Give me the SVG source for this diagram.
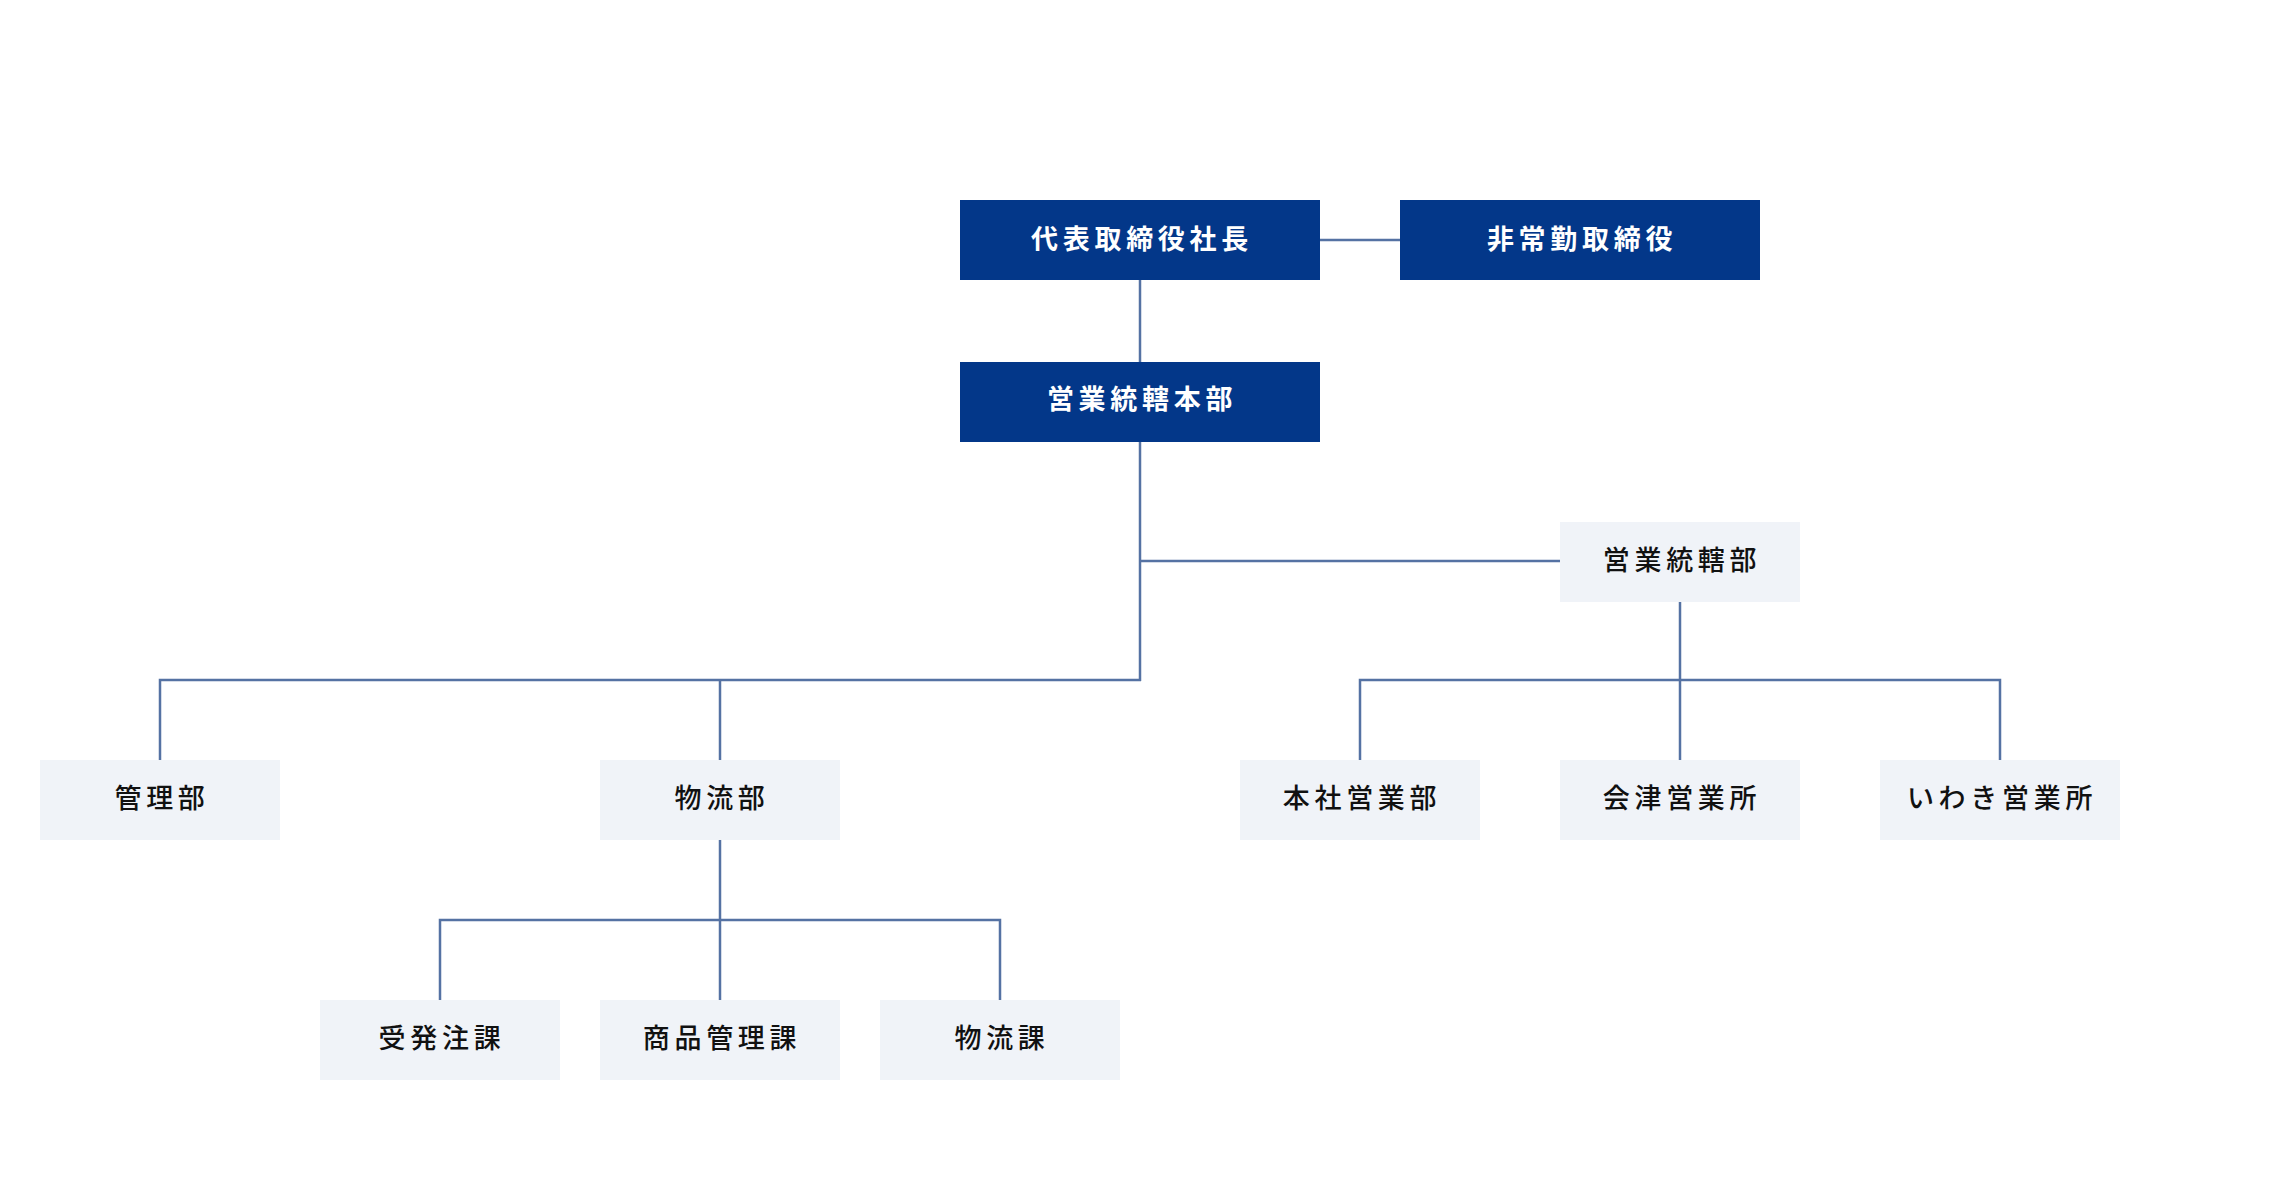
<svg xmlns="http://www.w3.org/2000/svg" width="2280" height="1200" viewBox="0 0 2280 1200">
<style>
.dark{fill:#033789}
.light{fill:#f0f3f8}
.t{font-family:"Noto Sans CJK JP","Noto Sans CJK SC",sans-serif;font-size:27px;letter-spacing:4.7px;text-anchor:middle}
.tw{fill:#ffffff;font-weight:700}
.tb{fill:#111111;font-weight:500}
.c{stroke:#5572a3;stroke-width:2.5;fill:none}
</style>
<rect width="2280" height="1200" fill="#ffffff"/>
<g id="connectors" class="c">
<line x1="1320" y1="240" x2="1400" y2="240"/>
<line x1="1140" y1="280" x2="1140" y2="362"/>
<line x1="1140" y1="442" x2="1140" y2="681"/>
<line x1="1140" y1="561" x2="1560" y2="561"/>
<polyline points="160,760 160,680 1141,680"/>
<line x1="720" y1="680" x2="720" y2="760"/>
<line x1="1680" y1="602" x2="1680" y2="760"/>
<polyline points="1360,760 1360,680 2000,680 2000,760"/>
<line x1="720" y1="840" x2="720" y2="1000"/>
<polyline points="440,1000 440,920 1000,920 1000,1000"/>
</g>
<g id="n-president"><rect class="dark" x="960" y="200" width="360" height="80"/><text class="t tw" x="1142" y="249">代表取締役社長</text></g>
<g id="n-outside"><rect class="dark" x="1400" y="200" width="360" height="80"/><text class="t tw" x="1582" y="249">非常勤取締役</text></g>
<g id="n-hq"><rect class="dark" x="960" y="362" width="360" height="80"/><text class="t tw" x="1142" y="409">営業統轄本部</text></g>
<g id="n-sales"><rect class="light" x="1560" y="522" width="240" height="80"/><text class="t tb" x="1682" y="570">営業統轄部</text></g>
<g id="n-admin"><rect class="light" x="40" y="760" width="240" height="80"/><text class="t tb" x="162" y="808">管理部</text></g>
<g id="n-logistics"><rect class="light" x="600" y="760" width="240" height="80"/><text class="t tb" x="722" y="808">物流部</text></g>
<g id="n-honsha"><rect class="light" x="1240" y="760" width="240" height="80"/><text class="t tb" x="1362" y="808">本社営業部</text></g>
<g id="n-aizu"><rect class="light" x="1560" y="760" width="240" height="80"/><text class="t tb" x="1682" y="808">会津営業所</text></g>
<g id="n-iwaki"><rect class="light" x="1880" y="760" width="240" height="80"/><text class="t tb" x="2002" y="808">いわき営業所</text></g>
<g id="n-order"><rect class="light" x="320" y="1000" width="240" height="80"/><text class="t tb" x="442" y="1048">受発注課</text></g>
<g id="n-goods"><rect class="light" x="600" y="1000" width="240" height="80"/><text class="t tb" x="722" y="1048">商品管理課</text></g>
<g id="n-logi-sec"><rect class="light" x="880" y="1000" width="240" height="80"/><text class="t tb" x="1002" y="1048">物流課</text></g>
</svg>
